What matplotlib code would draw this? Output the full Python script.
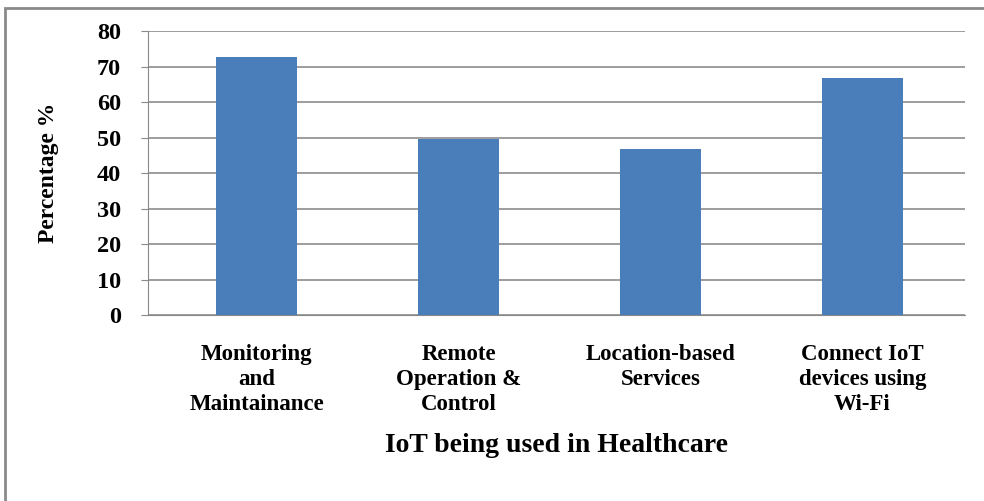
import matplotlib
matplotlib.use("Agg")
import matplotlib.pyplot as plt
from matplotlib.patches import Rectangle

# data
categories = ["Monitoring\nand\nMaintainance", "Remote\nOperation &\nControl",
              "Location-based\nServices", "Connect IoT\ndevices using\nWi-Fi"]
percent = [72.7, 49.6, 46.8, 66.7]
yticks = [0, 10, 20, 30, 40, 50, 60, 70, 80]

plt.rcParams['font.family'] = ['Liberation Serif', 'DejaVu Serif']

fig = plt.figure(figsize=(9.84, 5.01), dpi=100)
ax = fig.add_axes([0.150, 0.371, 0.831, 0.567])

x = range(len(categories))
ax.bar(x, percent, width=0.4, color="#4a7ebb", zorder=3)

ax.set_xlim(-0.54, len(categories) - 0.49)
ax.set_ylim(0, 80)
ax.set_yticks(yticks)
ax.set_yticklabels([str(v) for v in yticks], fontsize=17.5, fontweight="bold")
ax.set_xticks(list(x))
ax.set_xticklabels(categories, fontsize=16.5, fontweight="bold", linespacing=1.25)
ax.tick_params(axis="x", length=0, pad=21)
ax.tick_params(axis="y", length=5, color="#888888", pad=14)

ax.grid(axis="y", color="#8c8c8c", linewidth=1.2, zorder=0)
for side in ["top", "right"]:
    ax.spines[side].set_visible(False)
ax.spines["left"].set_color("#888888")
ax.spines["bottom"].set_color("#888888")

ax.set_ylabel("Percentage %", fontsize=17, fontweight="bold", labelpad=27)
ax.set_xlabel("IoT being used in Healthcare", fontsize=20, fontweight="bold", labelpad=13)

# outer chart frame
fig.patches.append(Rectangle((0.005, -0.05), 1.1, 1.034, transform=fig.transFigure,
                             fill=False, edgecolor="#8a8a8a", linewidth=2))

fig.savefig("out.png", dpi=100)
